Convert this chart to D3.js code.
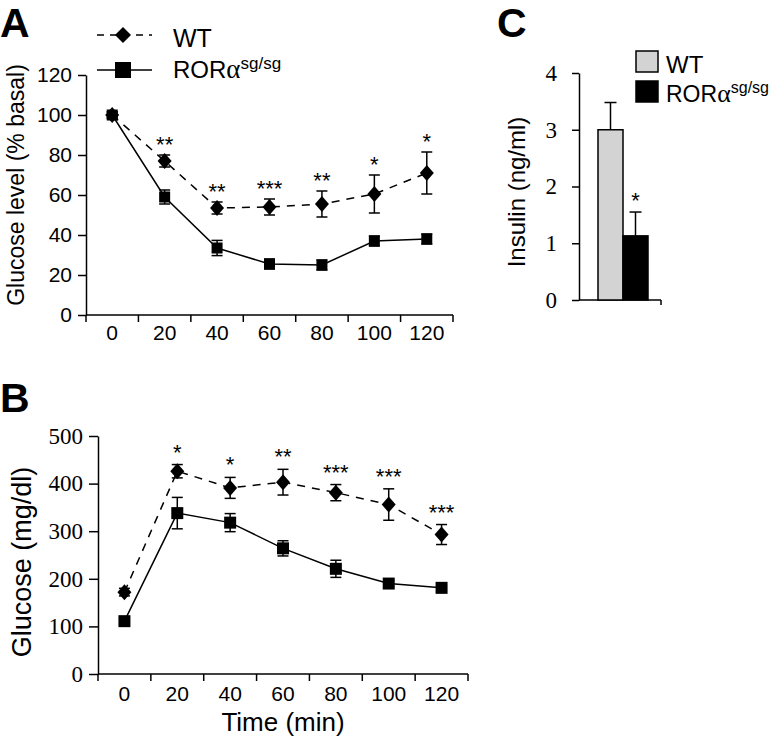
<!DOCTYPE html>
<html>
<head>
<meta charset="utf-8">
<script src="https://cdn.jsdelivr.net/npm/d3@7"></script>
<style>
  body { margin: 0; background: #fff; }
  svg { display: block; }
</style>
</head>
<body>
<div id="chart"></div>
<script>
// time points (min), shared by panels A and B
var times = ["0", "20", "40", "60", "80", "100", "120"];

// panel A: insulin tolerance, glucose as % of basal
var itWT     = [100, 77, 53.5, 54, 55.5, 60.5, 71];
var itWTErr  = [1.5, 3, 3, 4, 6.5, 9.5, 10.5];
var itKO     = [100, 59, 33.5, 25.5, 25, 37, 38];
var itKOErr  = [1.5, 3.5, 3.8, 2.5, 2.5, 2.5, 2.5];
var itStars  = ["", "**", "**", "***", "**", "*", "*"];
var itTicks  = [0, 20, 40, 60, 80, 100, 120];

// panel B: glucose tolerance, mg/dl
var gtWT     = [172, 426, 391, 403, 381, 356, 293];
var gtWTErr  = [8, 14, 22, 27, 17, 33, 21];
var gtKO     = [111, 338, 318, 264, 221, 190, 181];
var gtKOErr  = [6, 33, 19, 16, 18, 6, 5];
var gtStars  = ["", "*", "*", "**", "***", "***", "***"];
var gtTicks  = [0, 100, 200, 300, 400, 500];

// panel C: insulin (ng/ml)
var insGroups = ["WT", "KO"];
var insValues = [3.0, 1.13];
var insErr    = [0.48, 0.42];
var insStars  = ["", "*"];
var insTicks  = [0, 1, 2, 3, 4];

var sans = "'Liberation Sans', Arial, sans-serif";
var serif = "'Liberation Serif', 'Times New Roman', serif";

var svg = d3.select("#chart")
  .append("svg")
    .attr("width", 780)
    .attr("height", 738);

function diamond(w, h) {
  return "M0," + (-h) + "L" + w + ",0L0," + h + "L" + (-w) + ",0Z";
}

// draws a line panel (A or B)
function linePanel(o) {
  var x = d3.scaleBand().domain(times).range([o.left, o.right]);
  var y = d3.scaleLinear().domain(o.domain).range([o.bottom, o.top]);
  var cx = function(i) { return x(times[i]) + x.bandwidth() / 2; };

  // y axis
  var ya = svg.append("g")
    .attr("transform", "translate(" + o.left + ",0)")
    .call(d3.axisLeft(y).tickValues(o.ticks).tickSize(o.tick).tickSizeOuter(0).tickPadding(6));
  ya.attr("font-family", o.yFont).attr("font-size", o.yFontSize);
  ya.selectAll("text").attr("fill", "#000");
  ya.selectAll("line, path").attr("stroke", "#000").attr("stroke-width", 1.5);

  // x axis: labels centred in bands, ticks on band edges
  var xa = svg.append("g")
    .attr("transform", "translate(0," + o.bottom + ")")
    .call(d3.axisBottom(x).tickSize(0).tickPadding(o.xPad));
  xa.attr("font-family", sans).attr("font-size", 21);
  xa.select(".domain").remove();
  xa.selectAll("text").attr("fill", "#000");
  xa.append("line")
    .attr("x1", o.left).attr("x2", o.right)
    .attr("stroke", "#000").attr("stroke-width", 1.5);
  xa.selectAll(".edge")
    .data(d3.range(times.length + 1))
    .enter().append("line")
      .attr("x1", function(i) { return o.left + i * x.step(); })
      .attr("x2", function(i) { return o.left + i * x.step(); })
      .attr("y1", 0).attr("y2", 7)
      .attr("stroke", "#000").attr("stroke-width", 1.5);

  var line = d3.line().x(function(d, i) { return cx(i); }).y(function(d) { return y(d); });

  svg.append("path").datum(o.ko)
    .attr("d", line).attr("fill", "none").attr("stroke", "#000").attr("stroke-width", 1.5);
  svg.append("path").datum(o.wt)
    .attr("d", line).attr("fill", "none").attr("stroke", "#000").attr("stroke-width", 1.5)
    .attr("stroke-dasharray", "8,7");

  // error bars
  [[o.ko, o.koErr], [o.wt, o.wtErr]].forEach(function(s) {
    var g = svg.append("g").attr("stroke", "#000").attr("stroke-width", 1.5);
    s[0].forEach(function(v, i) {
      var e = s[1][i];
      g.append("line").attr("x1", cx(i)).attr("x2", cx(i)).attr("y1", y(v - e)).attr("y2", y(v + e));
      g.append("line").attr("x1", cx(i) - 5.5).attr("x2", cx(i) + 5.5).attr("y1", y(v - e)).attr("y2", y(v - e));
      g.append("line").attr("x1", cx(i) - 5.5).attr("x2", cx(i) + 5.5).attr("y1", y(v + e)).attr("y2", y(v + e));
    });
  });

  // markers
  svg.selectAll(null).data(o.ko).enter().append("rect")
    .attr("x", function(d, i) { return cx(i) - o.sq / 2; })
    .attr("y", function(d) { return y(d) - o.sq / 2; })
    .attr("width", o.sq).attr("height", o.sq).attr("fill", "#000");
  svg.selectAll(null).data(o.wt).enter().append("path")
    .attr("d", diamond(o.dw, o.dh))
    .attr("transform", function(d, i) { return "translate(" + cx(i) + "," + y(d) + ")"; })
    .attr("fill", "#000");

  // significance stars above WT error bars
  svg.selectAll(null).data(o.stars).enter().append("text")
    .attr("x", function(d, i) { return cx(i); })
    .attr("y", function(d, i) { return y(o.wt[i] + o.wtErr[i]) - o.starGap; })
    .attr("text-anchor", "middle")
    .attr("font-family", sans).attr("font-size", 22)
    .text(function(d) { return d; });

  return {x: x, y: y};
}

// ---- Panel A
linePanel({
  left: 86, right: 453, top: 75, bottom: 315, domain: [0, 120], ticks: itTicks,
  tick: 8, yFont: sans, yFontSize: 21, xPad: 10,
  wt: itWT, wtErr: itWTErr, ko: itKO, koErr: itKOErr, stars: itStars, starGap: 3,
  sq: 11, dw: 7, dh: 8
});

svg.append("text")
  .attr("transform", "translate(24,185)rotate(-90)")
  .attr("text-anchor", "middle")
  .attr("font-family", sans).attr("font-size", 23)
  .text("Glucose level (% basal)");

// legend A
var legA = svg.append("g");
legA.append("line").attr("x1", 97).attr("x2", 152).attr("y1", 35).attr("y2", 35)
  .attr("stroke", "#000").attr("stroke-width", 1.5).attr("stroke-dasharray", "7,6");
legA.append("path").attr("d", diamond(8, 8)).attr("transform", "translate(123,35)");
legA.append("text").attr("x", 173).attr("y", 47)
  .attr("font-family", sans).attr("font-size", 25).text("WT");
legA.append("line").attr("x1", 97).attr("x2", 152).attr("y1", 70).attr("y2", 70)
  .attr("stroke", "#000").attr("stroke-width", 1.5);
legA.append("rect").attr("x", 115).attr("y", 62).attr("width", 16).attr("height", 16);
var rA = legA.append("text").attr("x", 173).attr("y", 78)
  .attr("font-family", sans).attr("font-size", 24);
rA.append("tspan").text("ROR");
rA.append("tspan").attr("font-family", serif).attr("font-size", 27).text("α");
rA.append("tspan").attr("dy", -9).attr("font-size", 17).text("sg/sg");

svg.append("text").attr("x", 0).attr("y", 37)
  .attr("font-family", sans).attr("font-size", 41).attr("font-weight", "bold").text("A");

// ---- Panel B
linePanel({
  left: 98, right: 468, top: 436, bottom: 674, domain: [0, 500], ticks: gtTicks,
  tick: 9, yFont: serif, yFontSize: 23, xPad: 12,
  wt: gtWT, wtErr: gtWTErr, ko: gtKO, koErr: gtKOErr, stars: gtStars, starGap: 5,
  sq: 12, dw: 7, dh: 8
});

svg.append("text")
  .attr("transform", "translate(31,562)rotate(-90)")
  .attr("text-anchor", "middle")
  .attr("font-family", sans).attr("font-size", 27)
  .text("Glucose (mg/dl)");

svg.append("text").attr("x", 283).attr("y", 731)
  .attr("text-anchor", "middle")
  .attr("font-family", sans).attr("font-size", 26)
  .text("Time (min)");

svg.append("text").attr("x", 0).attr("y", 412)
  .attr("font-family", sans).attr("font-size", 41).attr("font-weight", "bold").text("B");

// ---- Panel C
var cx0 = 579, cy0 = 300;
var yC = d3.scaleLinear().domain([0, 4]).range([cy0, 73]);
var xC = d3.scaleBand().domain(insGroups).range([598, 648]);
var fills = ["#d3d3d3", "#000"];

var yaC = svg.append("g")
  .attr("transform", "translate(" + cx0 + ",0)")
  .call(d3.axisLeft(yC).tickValues(insTicks).tickFormat(d3.format("d"))
    .tickSize(7).tickSizeOuter(0).tickPadding(15));
yaC.attr("font-family", serif).attr("font-size", 23);
yaC.selectAll("text").attr("fill", "#000");
yaC.selectAll("line, path").attr("stroke", "#000").attr("stroke-width", 1.5);

svg.append("line").attr("x1", cx0).attr("x2", 661).attr("y1", cy0).attr("y2", cy0)
  .attr("stroke", "#000").attr("stroke-width", 1.5);
svg.append("line").attr("x1", 661).attr("x2", 661).attr("y1", cy0).attr("y2", cy0 + 5)
  .attr("stroke", "#000").attr("stroke-width", 1.5);

// error bars (upper half only)
insValues.forEach(function(v, i) {
  var mx = xC(insGroups[i]) + xC.bandwidth() / 2;
  svg.append("line").attr("x1", mx).attr("x2", mx).attr("y1", yC(v)).attr("y2", yC(v + insErr[i]))
    .attr("stroke", "#000").attr("stroke-width", 1.5);
  svg.append("line").attr("x1", mx - 6).attr("x2", mx + 6).attr("y1", yC(v + insErr[i])).attr("y2", yC(v + insErr[i]))
    .attr("stroke", "#000").attr("stroke-width", 1.5);
});

svg.selectAll(null).data(insValues).enter().append("rect")
  .attr("x", function(d, i) { return xC(insGroups[i]); })
  .attr("y", function(d) { return yC(d); })
  .attr("width", xC.bandwidth())
  .attr("height", function(d) { return cy0 - yC(d); })
  .attr("fill", function(d, i) { return fills[i]; })
  .attr("stroke", "#000").attr("stroke-width", 1.5);

svg.selectAll(null).data(insStars).enter().append("text")
  .attr("x", function(d, i) { return xC(insGroups[i]) + xC.bandwidth() / 2; })
  .attr("y", function(d, i) { return yC(insValues[i] + insErr[i]) - 4; })
  .attr("text-anchor", "middle")
  .attr("font-family", sans).attr("font-size", 22)
  .text(function(d) { return d; });

svg.append("text")
  .attr("transform", "translate(525,192)rotate(-90)")
  .attr("text-anchor", "middle")
  .attr("font-family", sans).attr("font-size", 24)
  .text("Insulin (ng/ml)");

// legend C
var legC = svg.append("g");
legC.append("rect").attr("x", 636).attr("y", 51).attr("width", 22).attr("height", 21)
  .attr("fill", fills[0]).attr("stroke", "#000").attr("stroke-width", 1.5);
legC.append("rect").attr("x", 636).attr("y", 81).attr("width", 22).attr("height", 21)
  .attr("fill", fills[1]).attr("stroke", "#000").attr("stroke-width", 1.5);
legC.append("text").attr("x", 666).attr("y", 73)
  .attr("font-family", sans).attr("font-size", 24).text("WT");
var rC = legC.append("text").attr("x", 666).attr("y", 102)
  .attr("font-family", sans).attr("font-size", 23);
rC.append("tspan").text("ROR");
rC.append("tspan").attr("font-family", serif).attr("font-size", 26).text("α");
rC.append("tspan").attr("dy", -9).attr("font-size", 16).text("sg/sg");

svg.append("text").attr("x", 497).attr("y", 37)
  .attr("font-family", sans).attr("font-size", 41).attr("font-weight", "bold").text("C");
</script>
</body>
</html>
